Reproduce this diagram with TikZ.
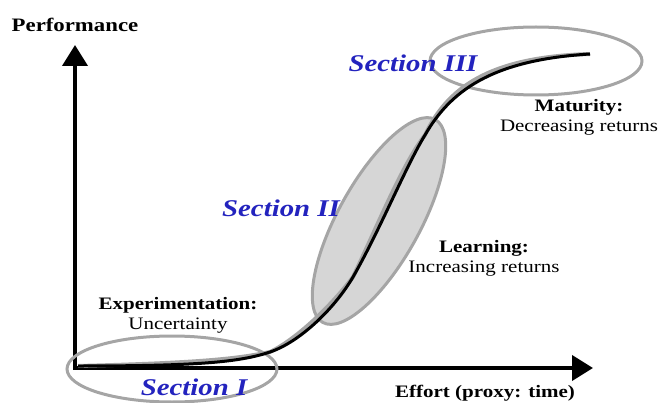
\documentclass[tikz,border=0pt]{standalone}
\usepackage{fontspec}
\setmainfont{Liberation Serif}[FakeStretch=1.2]
\usetikzlibrary{arrows.meta}
\definecolor{secblue}{RGB}{35,35,190}
\definecolor{ringgray}{RGB}{165,165,165}
\definecolor{fillgray}{RGB}{214,214,214}

\begin{document}
\begin{tikzpicture}[x=1pt, y=-1pt, inner sep=0pt, >={Triangle[length=21pt,width=25pt]},
  lbl/.style={font=\fontsize{17.5}{20}\selectfont, align=center},
  sec/.style={font=\fontsize{24}{24}\selectfont\bfseries\itshape, text=secblue},
  ring/.style={draw=ringgray, line width=3pt}]
\useasboundingbox (0,0) rectangle (660,403);
% axes
\coordinate (ytip) at (75,45);
\coordinate (xtip) at (593,368);
\draw[<->, line width=4pt] (ytip) |- (xtip);
% sections
\coordinate (s1) at (172,369);
\coordinate (s2) at (379,221);
\coordinate (s3) at (536,61);
\draw[ring, fill=fillgray, rotate around={61:(s2)}] (s2) ellipse [x radius=116, y radius=41];
\draw[ring] (s1) ellipse [x radius=105, y radius=33];
\draw[ring] (s3) ellipse [x radius=106, y radius=34];
% s-curve
\coordinate (c0) at (78,366);
\coordinate (c1) at (270,352);
\coordinate (c2) at (353,277);
\coordinate (c3) at (425,135);
\coordinate (c4) at (590,54);
\draw[ringgray, line width=4pt, shift={(-3,-3)}] (c0) .. controls (200,366) and (240,362) .. (c1)
  .. controls (300,342) and (335,308) .. (c2) .. controls (380,230) and (405,168) .. (c3)
  .. controls (450,92) and (490,60) .. (c4);
\draw[black, line width=3pt] (c0) .. controls (200,366) and (240,362) .. (c1)
  .. controls (300,342) and (335,308) .. (c2) .. controls (380,230) and (405,168) .. (c3)
  .. controls (450,92) and (490,60) .. (c4);
% labels
\node[lbl, font=\fontsize{19}{20}\selectfont\bfseries] (perf) at (75,25) {Performance};
\node[lbl, font=\fontsize{17.5}{20}\selectfont\bfseries] (effort) at (485,393) {Effort (proxy: time)};
\node[lbl] (expt) at (178,315) {\textbf{Experimentation:}\\Uncertainty};
\node[lbl] (learn) at (484,258) {\textbf{Learning:}\\Increasing returns};
\node[lbl] (matur) at (579,117) {\textbf{Maturity:}\\Decreasing returns};
\node[sec] (sec1) at (194,387) {Section I};
\node[sec] (sec2) at (281,208) {Section II};
\node[sec] (sec3) at (413,63) {Section III};
\end{tikzpicture}
\end{document}
